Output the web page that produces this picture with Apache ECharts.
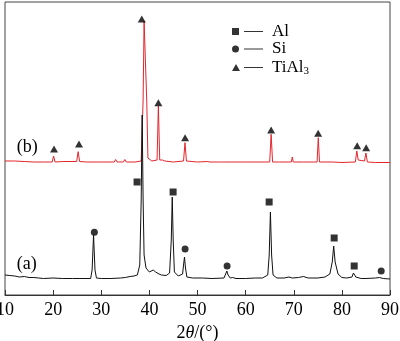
<!DOCTYPE html>
<html>
<head>
<meta charset="utf-8">
<script src="https://cdn.jsdelivr.net/npm/echarts@6/dist/echarts.min.js"></script>
<style>
  html, body { margin: 0; padding: 0; background: #fff; }
  #chart { width: 400px; height: 341px; }
</style>
</head>
<body>
<div id="chart"></div>
<script>
// XRD patterns: [2θ (°), intensity (a.u.)]
// (a) alloy before treatment, (b) after formation of TiAl3
const patternA = [
  [10, 20], [11, 19.5], [12, 19], [13, 18], [14, 18.5], [15, 17.5], [16, 17.5], [17, 17], [18, 16.5],
  [20, 17], [22, 16.5], [24, 16.5], [26, 16.5], [27.8, 16.5], [28.1, 25], [28.4, 60], [28.7, 25],
  [29.0, 17], [30, 16.5], [32, 16.5], [34, 17], [35, 17.5], [36, 18.5], [36.8, 19], [37.5, 20],
  [38.0, 30], [38.3, 95], [38.5, 180], [38.7, 95], [38.9, 40], [39.3, 27], [40.0, 23], [40.8, 25],
  [41.3, 23], [42.0, 21], [42.5, 20], [43.5, 19.5], [44.2, 22], [44.55, 55], [44.75, 98], [44.95, 55],
  [45.2, 23], [46.0, 19], [46.9, 21], [47.1, 30], [47.3, 38], [47.5, 27], [47.8, 18], [49, 17],
  [51, 17], [53, 16.5], [55.5, 17], [55.85, 21], [56.1, 24], [56.35, 20], [56.8, 17], [57.3, 17.5],
  [58, 16.5], [60, 16.5], [62, 17], [63.5, 17], [64.6, 20], [64.9, 40], [65.15, 83], [65.4, 40],
  [65.7, 20], [66.5, 17], [68, 17], [69, 18], [69.3, 19], [69.7, 17], [71, 17.5], [72, 18.5],
  [73, 17], [75, 17], [76.5, 18], [77.5, 21], [78.0, 33], [78.3, 49], [78.6, 33], [79.2, 21],
  [80, 17.5], [81, 17], [82.1, 18], [82.4, 22], [82.6, 23], [82.9, 18], [84, 16.5], [85, 16.5],
  [87, 17], [87.8, 17.5], [88.2, 18.5], [88.6, 16.5], [90, 16]
];

const patternB = [
  [10, 134], [12, 134], [14, 133.5], [16, 133], [18, 133], [19.8, 133], [20.1, 139], [20.4, 133],
  [22, 133.5], [24.9, 133.5], [25.2, 143.3], [25.5, 133.5], [27, 133], [30, 133], [32.7, 133],
  [33.0, 135.5], [33.3, 133], [34.6, 133], [34.9, 135.5], [35.2, 133], [37, 133], [38.3, 134],
  [38.7, 195], [38.9, 274], [39.2, 274], [39.45, 195], [39.7, 137], [40.5, 134], [41.6, 135],
  [41.87, 189], [42.15, 135], [42.7, 135], [42.95, 136.5], [43.2, 134], [45, 133], [47.1, 134],
  [47.4, 152.3], [47.7, 134], [50, 133], [52, 133.5], [52.3, 135], [52.6, 133], [54.4, 133],
  [54.7, 135], [55, 133], [57, 133], [57.3, 134.5], [57.6, 133], [58.6, 133], [58.9, 134.5],
  [59.2, 133], [63, 133], [63.4, 134], [63.8, 133], [65.0, 133], [65.3, 160.7], [65.6, 133],
  [67, 133], [69.5, 133], [69.7, 138], [69.9, 133], [72, 133], [74.85, 133], [75.1, 157.3],
  [75.35, 133], [78, 133], [80, 132.5], [82.8, 133], [83.1, 144], [83.4, 135], [84.7, 134],
  [85.0, 142], [85.3, 133], [87, 132.5], [90, 132.5]
];

// Phase markers placed above the indexed reflections
const alPeaks = [[37.44, 113], [44.93, 103], [64.89, 93], [78.4, 57], [82.56, 29]];
const siPeaks = [[28.57, 62.7], [47.42, 46], [56.15, 29], [88.17, 24]];
const tial3Peaks = [[20.19, 146], [25.38, 151], [38.42, 276], [41.87, 192.3], [47.42, 157.3],
  [65.3, 165], [75.07, 161.7], [83.18, 149.3], [85.05, 147.3]];

const SERIF = "'Liberation Serif', 'Times New Roman', serif";
const LINE_ICON = ' M12,3h19v1h-19z';

const chart = echarts.init(document.getElementById('chart'), null, { renderer: 'canvas' });

function curveLabel(text, x, y) {
  return {
    symbol: 'circle', symbolSize: 1,
    itemStyle: { color: 'rgba(0,0,0,0)' },
    label: { show: true, position: 'inside', color: '#000', fontFamily: SERIF, fontSize: 18 },
    data: [{ coord: [x, y], value: text, label: { formatter: text } }]
  };
}

chart.setOption({
  animation: false,
  backgroundColor: '#fff',
  grid: {
    left: 5, right: 10, top: 2, bottom: 46,
    outerBoundsMode: 'none', containLabel: false,
    show: true, borderColor: '#444', borderWidth: 1
  },
  xAxis: {
    type: 'value', min: 10, max: 90, interval: 10,
    axisLine: { lineStyle: { color: '#333', width: 1 } },
    axisTick: { inside: true, length: 5, lineStyle: { color: '#333' } },
    axisLabel: { color: '#000', fontFamily: SERIF, fontSize: 18, margin: 6 },
    splitLine: { show: false },
    name: '{n|2}{i|θ}{n|/(°)}',
    nameLocation: 'middle',
    nameGap: 24,
    nameTextStyle: {
      rich: {
        n: { fontFamily: SERIF, fontSize: 18, color: '#000' },
        i: { fontFamily: SERIF, fontSize: 18, fontStyle: 'italic', color: '#000' }
      }
    }
  },
  yAxis: { type: 'value', min: 0, max: 293, show: false },
  legend: {
    orient: 'vertical', left: 232, top: 23, padding: 0,
    itemWidth: 31, itemHeight: 7, itemGap: 0.5,
    selectedMode: false,
    data: [
      { name: 'Al', icon: 'path://M0,0h7v7h-7z' + LINE_ICON },
      { name: 'Si', icon: 'path://M3.5,0A3.5,3.5,0,1,1,3.5,7A3.5,3.5,0,1,1,3.5,0z' + LINE_ICON },
      { name: 'TiAl3', icon: 'path://M4,0L8,7H0z' + LINE_ICON }
    ],
    formatter: function (name) {
      return name === 'TiAl3' ? '{t|TiAl}{s|3}' : '{t|' + name + '}';
    },
    textStyle: {
      color: '#000', fontFamily: SERIF, fontSize: 17, padding: [0, 0, 0, 4],
      rich: {
        t: { fontFamily: SERIF, fontSize: 17, color: '#000', lineHeight: 18 },
        s: { fontFamily: SERIF, fontSize: 11, color: '#000', lineHeight: 11, padding: [8, 0, 0, 0] }
      }
    }
  },
  series: [
    {
      name: '(b)', type: 'line', data: patternB, showSymbol: false, symbol: 'none',
      lineStyle: { color: '#e3262d', width: 1 }, z: 2,
      markPoint: curveLabel('(b)', 14.6, 148)
    },
    {
      name: '(a)', type: 'line', data: patternA, showSymbol: false, symbol: 'none',
      lineStyle: { color: '#111', width: 1 }, z: 3,
      markPoint: curveLabel('(a)', 14.5, 31)
    },
    { name: 'Al', type: 'scatter', data: alPeaks, symbol: 'rect', symbolSize: 7,
      itemStyle: { color: '#000' }, z: 4 },
    { name: 'Si', type: 'scatter', data: siPeaks, symbol: 'circle', symbolSize: 7,
      itemStyle: { color: '#000' }, z: 4 },
    { name: 'TiAl3', type: 'scatter', data: tial3Peaks, symbol: 'triangle', symbolSize: [8, 7],
      itemStyle: { color: '#000' }, z: 4 }
  ]
});
</script>
</body>
</html>
